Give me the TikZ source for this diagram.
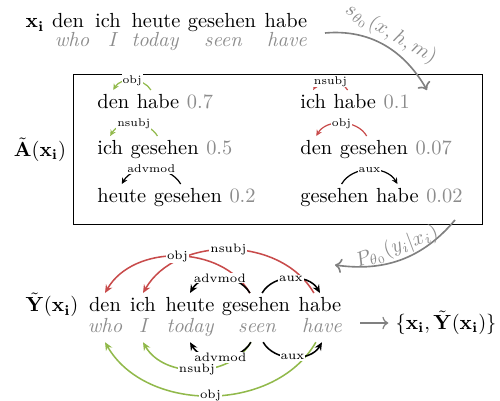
\documentclass[tikz,border=0pt]{standalone}
\usepackage{amsmath}
\usepackage{amssymb}
\usepackage{xcolor}
\usetikzlibrary{arrows.meta, positioning, calc}

\definecolor{depred}{RGB}{200,75,75}
\definecolor{depgreen}{RGB}{145,185,75}

\tikzset{
  word/.style={inner sep=0pt, anchor=base},
  gloss/.style={word, text=black!45, font=\itshape},
  score/.style={word, text=black!45},
  dep/.style={-{Stealth[length=4pt,width=3.5pt]}, line width=0.75pt},
  boxdep/.style={-{Stealth[length=3pt,width=2.8pt]}, line width=0.6pt},
  deplabel/.style={fill=white, text=black, inner sep=0.5pt, font=\fontsize{6}{7}\selectfont},
  boxlabel/.style={deplabel, font=\fontsize{5.5}{6}\selectfont},
  leftup/.style={out=120, in=60},
  rightup/.style={out=60, in=120},
  leftdown/.style={out=-120, in=-60},
  rightdown/.style={out=-60, in=-120},
  flow/.style={->, black!50, line width=0.8pt},
  flowlabel/.style={text=black!45, inner sep=1pt}
}

\begin{document}
\begin{tikzpicture}[x=0.49pt, y=0.49pt]
\useasboundingbox (0,0) rectangle (500,401);

% Input sentence with glosses
\node[word] (xlab) at (35,373) {$\mathbf{x_i}$};
\foreach \x/\w/\gx/\g in {68/den/72/who, 108/ich/112/I, 156/heute/155/today, 222/gesehen/223/seen, 286/habe/287/have} {
   \node[word] (x\w) at (\x,373) {\w};
   \node[gloss] (xg\g) at (\gx,354) {\g};
}

% Candidate arcs
\node[draw, minimum width=200.4pt, minimum height=73.5pt] (cand) at (277.5,252) {};
\node (alab) at (40,251) {$\tilde{\mathbf{A}}(\mathbf{x_i})$};

\node[word, anchor=base west] (a1d) at (97,292) {den};
\node[word, base right=3.33pt of a1d] (a1h) {habe};
\node[score, base right=3.33pt of a1h] (a1s) {0.7};
\node[word, anchor=base west] (a2i) at (97,246) {ich};
\node[word, base right=3.33pt of a2i] (a2g) {gesehen};
\node[score, base right=3.33pt of a2g] (a2s) {0.5};
\node[word, anchor=base west] (a3h) at (97,198) {heute};
\node[word, base right=3.33pt of a3h] (a3g) {gesehen};
\node[score, base right=3.33pt of a3g] (a3s) {0.2};

\node[word, anchor=base west] (b1i) at (300,292) {ich};
\node[word, base right=3.33pt of b1i] (b1h) {habe};
\node[score, base right=3.33pt of b1h] (b1s) {0.1};
\node[word, anchor=base west] (b2d) at (300,246) {den};
\node[word, base right=3.33pt of b2d] (b2g) {gesehen};
\node[score, base right=3.33pt of b2g] (b2s) {0.07};
\node[word, anchor=base west] (b3g) at (300,198) {gesehen};
\node[word, base right=3.33pt of b3g] (b3h) {habe};
\node[score, base right=3.33pt of b3h] (b3s) {0.02};

\draw[boxdep, depgreen] ([xshift=-3.5pt, yshift=9.3pt]a1h.base) to[leftup] node[midway, boxlabel] {obj} ([yshift=9.3pt]a1d.base);
\draw[boxdep, depgreen] ([xshift=-3.5pt, yshift=9.3pt]a2g.base) to[leftup] node[midway, boxlabel] {nsubj} ([yshift=9.3pt]a2i.base);
\draw[boxdep] ([xshift=-3.5pt, yshift=9.3pt]a3g.base) to[leftup] node[midway, boxlabel] {advmod} ([yshift=9.3pt]a3h.base);
\draw[boxdep, depred] ([xshift=-3.5pt, yshift=9.3pt]b1h.base) to[leftup] node[midway, boxlabel] {nsubj} ([yshift=9.3pt]b1i.base);
\draw[boxdep, depred] ([xshift=-3.5pt, yshift=9.3pt]b2g.base) to[leftup] node[midway, boxlabel] {obj} ([yshift=9.3pt]b2d.base);
\draw[boxdep] ([xshift=3.5pt, yshift=9.3pt]b3g.base) to[rightup] node[midway, boxlabel] {aux} ([yshift=9.3pt]b3h.base);

% Scoring and decoding
\coordinate (sfrom) at (325,368);
\coordinate (sto) at (427,311);
\draw[flow] (sfrom) to[out=5, in=120] node[midway, sloped, above, flowlabel] {$s_{\theta_0}(x,h,m)$} (sto);
\coordinate (pfrom) at (455,181);
\coordinate (pto) at (335,136);
\draw[flow] (pfrom) to[out=230, in=-8] node[midway, sloped, above, flowlabel] {$P_{\theta_0}(y_i|x_i)$} (pto);

% Decoded tree
\node[word] (ylab) at (52,89) {$\tilde{\mathbf{Y}}(\mathbf{x_i})$};
\foreach \x/\w/\gx/\g in {105/den/105/who, 143/ich/143/I, 190/heute/190/today, 256/gesehen/257/seen, 320/habe/322/have} {
   \node[word] (y\w) at (\x,89) {\w};
   \node[gloss] (yg\g) at (\gx,69) {\g};
   \coordinate (y\w-t) at ([yshift=9.3pt]y\w.base);
   \coordinate (yg\g-b) at ([yshift=-5pt]yg\g.base);
}

\draw[dep, depred] ([xshift=-3pt]yhabe-t) to[leftup] node[midway, deplabel] {nsubj} (yich-t);
\draw[dep, depred] ([xshift=-3pt]ygesehen-t) to[leftup] node[midway, deplabel] {obj} (yden-t);
\draw[dep] ([xshift=-3pt]ygesehen-t) to[leftup] node[midway, deplabel] {advmod} (yheute-t);
\draw[dep] ([xshift=3pt]ygesehen-t) to[rightup] node[midway, deplabel] {aux} (yhabe-t);

\draw[dep, depgreen] ([xshift=-3pt]ygseen-b) to[leftdown] node[midway, deplabel] {nsubj} (ygI-b);
\draw[dep, depgreen] ([xshift=-3pt]yghave-b) to[leftdown] node[midway, deplabel] {obj} (ygwho-b);
\draw[dep] ([xshift=-3pt]ygseen-b) to[leftdown] node[midway, deplabel] {advmod} (ygtoday-b);
\draw[dep] ([xshift=3pt]ygseen-b) to[rightdown] node[midway, deplabel] {aux} (yghave-b);

\coordinate (rfrom) at (360,78);
\node (res) at (446,78) {$\{\mathbf{x_i}, \tilde{\mathbf{Y}}(\mathbf{x_i})\}$};
\draw[->, black!50, line width=0.6pt] (rfrom) -- (res.west);
\end{tikzpicture}
\end{document}
